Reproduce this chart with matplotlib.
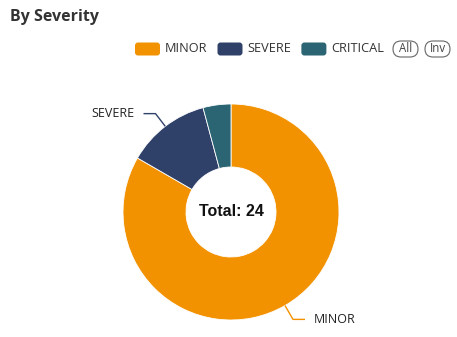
import numpy as np
import matplotlib
matplotlib.use("Agg")
import matplotlib.pyplot as plt
from matplotlib.patches import FancyBboxPatch

categories = ["MINOR", "SEVERE", "CRITICAL"]
values = [20, 3, 1]
colors = ["#F39200", "#2F4169", "#2B6473"]
labeled = ["MINOR", "SEVERE"]
title = "By Severity"
total_text = "Total: 24"

W, H = 457, 337
fig = plt.figure(figsize=(W / 100, H / 100), dpi=100)
ax = fig.add_axes([0, 0, 1, 1])

def Y(y):
    return H - y

cx, cy, R, r_in = 231, 212, 108, 45
wedges, _ = ax.pie(values, colors=colors, startangle=90, counterclock=False,
                   radius=R, center=(cx, Y(cy)), frame=True,
                   wedgeprops=dict(width=R - r_in, linewidth=0.6, edgecolor="white"))
ax.set_xlim(0, W)
ax.set_ylim(0, H)
ax.set_aspect("equal")
ax.axis("off")

# labels with leader lines
for w, cat, col in zip(wedges, categories, colors):
    if cat not in labeled:
        continue
    ang = np.deg2rad((w.theta1 + w.theta2) / 2)
    ext = 16
    x0, y0 = cx + R * np.cos(ang), Y(cy) + R * np.sin(ang)
    x1, y1 = cx + (R + ext) * np.cos(ang), Y(cy) + (R + ext) * np.sin(ang)
    side = 1 if np.cos(ang) > 0 else -1
    x2 = x1 + side * 12
    ax.plot([x0, x1, x2], [y0, y1, y1], color=col, lw=1.0, solid_capstyle="butt")
    ax.text(x2 + side * 9, y1, cat, ha="left" if side > 0 else "right", va="center",
            fontsize=9.0, family="Open Sans", color="#222222")

ax.text(cx, Y(cy - 1), total_text, ha="center", va="center", fontsize=11.5,
        fontweight="bold", family="Liberation Sans", color="#111111")

ax.text(10, Y(17), title, ha="left", va="center", fontsize=11.5,
        fontweight="bold", family="Open Sans", color="#333333")

# legend
lx = 135
ly = 49
for cat, col in zip(categories, colors):
    ax.add_patch(FancyBboxPatch((lx, Y(ly) - 6.5), 25, 13,
                                boxstyle="round,pad=0,rounding_size=3",
                                facecolor=col, edgecolor="none"))
    t = ax.text(lx + 30, Y(ly), cat, ha="left", va="center", fontsize=9.2,
                family="Open Sans", color="#333333")
    fig.canvas.draw()
    bb = t.get_window_extent()
    lx = bb.x1 + 10

for txt, x0 in [("All", 393), ("Inv", 425)]:
    ax.add_patch(FancyBboxPatch((x0, Y(ly) - 8), 25, 16,
                                boxstyle="round,pad=0,rounding_size=8",
                                facecolor="white", edgecolor="#666666", lw=0.8))
    ax.text(x0 + 12.5, Y(ly), txt, ha="center", va="center", fontsize=8.3,
            family="Open Sans", color="#444444")

fig.savefig("out.png", dpi=100)
